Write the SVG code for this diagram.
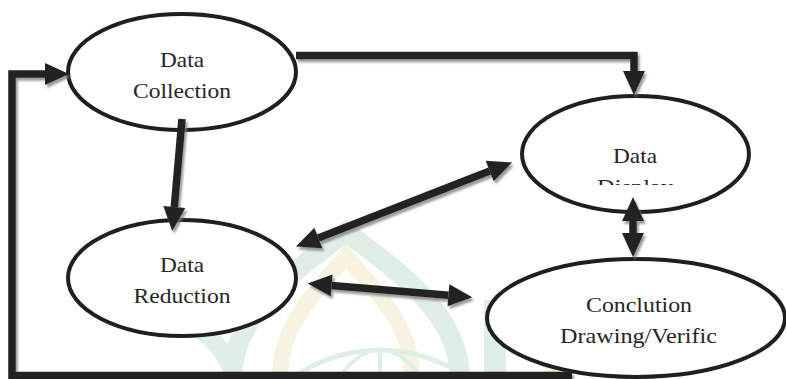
<svg xmlns="http://www.w3.org/2000/svg" width="786" height="379" viewBox="0 0 786 379">
  <style>
    .node ellipse { fill: #ffffff; stroke: #1f1f1f; stroke-width: 4; }
    .lbl { font-family: "Liberation Serif", "Times New Roman", serif; font-size: 22px; fill: #262626; text-anchor: middle; }
    .conn { fill: none; stroke: #222222; stroke-width: 7.5; stroke-linejoin: miter; stroke-linecap: butt; }
    .wm-g { fill: none; stroke: #e0efe5; }
    .wm-y { fill: none; stroke: #f7f3e0; }
  </style>
  <defs>
    <marker id="ah" markerUnits="userSpaceOnUse" viewBox="0 -12 26 24" markerWidth="26" markerHeight="24" refX="0" refY="0" orient="auto-start-reverse" overflow="visible">
      <path d="M0,-11 L24,0 L0,11 Z" fill="#222222"/>
    </marker>
    <filter id="sh" x="-10%" y="-10%" width="120%" height="130%">
      <feDropShadow dx="2" dy="3" stdDeviation="1.2" flood-color="#7a7a7a" flood-opacity="0.75"/>
    </filter>
    <clipPath id="clipDisplay">
      <rect x="520" y="90" width="240" height="95"/>
    </clipPath>
  </defs>

  <rect width="786" height="379" fill="#ffffff"/>

  <g id="watermark">
    <path class="wm-g" stroke-width="20" d="M232,379 C232,315 292,272 346,232 C400,272 460,315 460,379"/>
    <path class="wm-y" stroke-width="16" d="M280,379 C280,322 318,290 346,256 C374,290 412,322 412,379"/>
    <circle class="wm-g" stroke-width="5" cx="380" cy="500" r="150"/>
    <ellipse class="wm-g" stroke-width="4" cx="380" cy="500" rx="70" ry="150"/>
    <line class="wm-g" stroke-width="4" x1="380" y1="350" x2="380" y2="379"/>
    <path class="wm-g" stroke-width="22" d="M495,300 L495,379"/>
    <path class="wm-y" stroke-width="14" d="M530,340 L560,379"/>
    <path class="wm-g" stroke-width="18" d="M200,330 C215,340 228,355 235,379"/>
  </g>

  <g id="data-collection" class="node">
    <ellipse cx="182" cy="72" rx="114" ry="58"/>
    <text class="lbl" x="182" y="67" textLength="44" lengthAdjust="spacingAndGlyphs">Data</text>
    <text class="lbl" x="182" y="98" textLength="98" lengthAdjust="spacingAndGlyphs">Collection</text>
  </g>

  <g id="data-display" class="node">
    <ellipse cx="635.5" cy="154" rx="113.5" ry="58"/>
    <g clip-path="url(#clipDisplay)">
      <text class="lbl" x="635" y="163" textLength="44" lengthAdjust="spacingAndGlyphs">Data</text>
      <text class="lbl" x="635" y="194" textLength="76" lengthAdjust="spacingAndGlyphs">Display</text>
    </g>
  </g>

  <g id="data-reduction" class="node">
    <ellipse cx="182" cy="278" rx="114" ry="58"/>
    <text class="lbl" x="182" y="272" textLength="44" lengthAdjust="spacingAndGlyphs">Data</text>
    <text class="lbl" x="182" y="303" textLength="97" lengthAdjust="spacingAndGlyphs">Reduction</text>
  </g>

  <g id="conclusion" class="node">
    <ellipse cx="636" cy="318" rx="149" ry="59"/>
    <text class="lbl" x="639" y="312" textLength="106" lengthAdjust="spacingAndGlyphs">Conclution</text>
    <text class="lbl" x="638.5" y="343" textLength="157" lengthAdjust="spacingAndGlyphs">Drawing/Verific</text>
  </g>

  <g id="connectors" filter="url(#sh)">
    <polyline class="conn" points="572,375.5 12,375.5 12,74 45,74" marker-end="url(#ah)"/>
    <polyline class="conn" points="296,55.5 634,55.5 634,71" marker-end="url(#ah)"/>
    <line class="conn" x1="182" y1="119" x2="174.3" y2="207" marker-end="url(#ah)"/>
    <line class="conn" x1="318.3" y1="237.9" x2="489.7" y2="171.1" marker-start="url(#ah)" marker-end="url(#ah)"/>
    <line class="conn" x1="331.6" y1="285.4" x2="448.4" y2="295.2" marker-start="url(#ah)" marker-end="url(#ah)"/>
    <line class="conn" x1="633" y1="221" x2="633" y2="233" marker-start="url(#ah)" marker-end="url(#ah)"/>
  </g>
</svg>
